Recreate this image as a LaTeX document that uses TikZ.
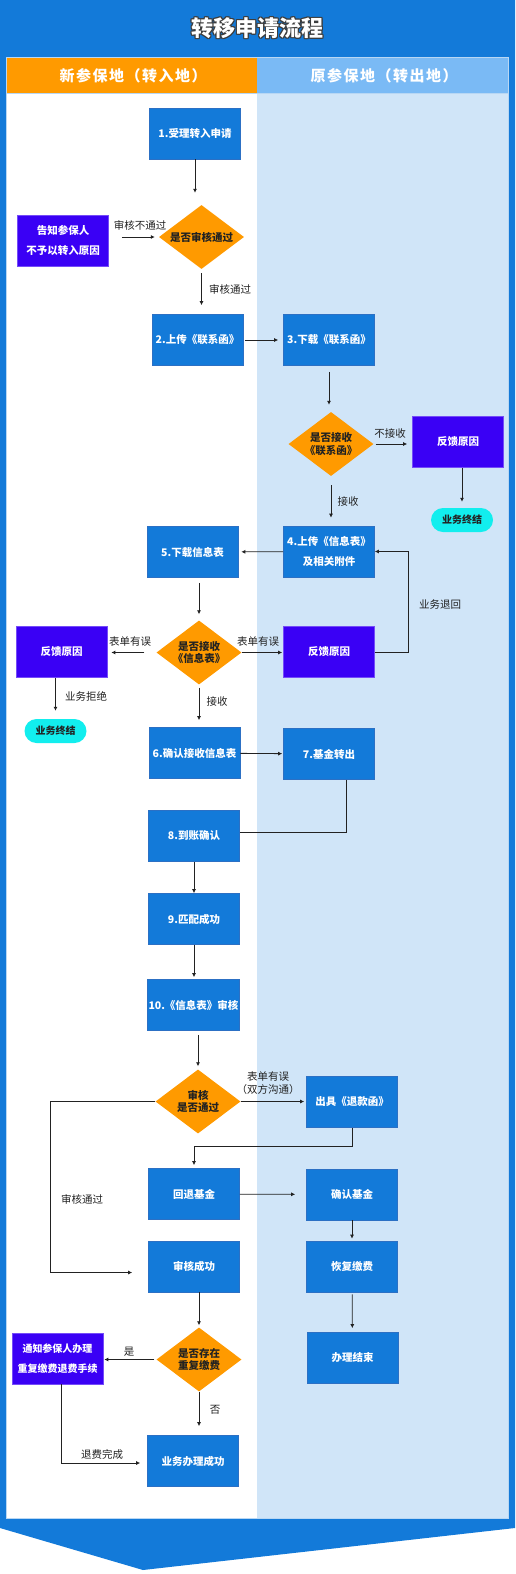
\documentclass[tikz,border=0pt]{standalone}
\usepackage{fontspec}
\setmainfont{Noto Sans CJK SC}
\usepackage{xcolor}
\usepackage{tikz}
\usetikzlibrary{arrows.meta,positioning,shapes.geometric,calc}
\definecolor{mBlue}{RGB}{19,122,217}
\definecolor{mEdge}{RGB}{44,112,196}
\definecolor{mOrange}{RGB}{255,154,0}
\definecolor{mPurple}{RGB}{58,0,245}
\definecolor{mCyan}{RGB}{18,238,238}
\definecolor{mPale}{RGB}{208,229,248}
\definecolor{mSky}{RGB}{122,186,245}
\definecolor{mInk}{RGB}{34,34,34}
\definecolor{mShade}{RGB}{60,60,60}
\tikzset{
flowbox/.style={rectangle,draw=mEdge,line width=.6pt,fill=mBlue,minimum width=91pt,minimum height=51pt,inner sep=1pt,align=center,text=white,font=\fontsize{10.5}{20}\selectfont\bfseries},
notebox/.style={rectangle,draw=mPurple!70!white,line width=.6pt,fill=mPurple,minimum width=91pt,minimum height=51pt,inner sep=1pt,align=center,text=white,font=\fontsize{10.5}{20}\selectfont\bfseries},
choice/.style={diamond,aspect=1.33,fill=mOrange,minimum width=85pt,minimum height=64pt,inner sep=0pt,align=center,text=mInk,font=\fontsize{10.5}{12.5}\selectfont\bfseries},
endcap/.style={rectangle,rounded corners=12pt,fill=mCyan,minimum width=62pt,minimum height=24pt,inner sep=0pt,text=mInk,font=\fontsize{10}{12}\selectfont\bfseries},
lbl/.style={inner sep=0pt,align=center,text=mInk,font=\fontsize{10.5}{13}\selectfont},
headtext/.style={inner sep=0pt,text=white,font=\fontsize{15}{18}\selectfont\bfseries\addfontfeature{LetterSpace=10}},
arrow/.style={-{Latex[length=4pt,width=4pt]},line width=.8pt,draw=mInk},
link/.style={line width=.8pt,draw=mInk}
}

\begin{document}
\begin{tikzpicture}[x=1pt,y=-1pt]
\useasboundingbox (0,0) rectangle (515,1574);
% frame and lanes
\fill[white] (0,0) rectangle (515,1574);
\fill[mBlue] (0,0) -- (515,0) -- (515,1528) -- (143,1570) -- (0,1528) -- cycle;
\fill[white] (6,93) rectangle (257,1518);
\fill[mPale] (257,93) rectangle (508,1518);
\fill[mOrange] (6,57) rectangle (257,93);
\fill[mSky] (257,57) rectangle (508,93);
\draw[white!70!mBlue,line width=.6pt] (6,57) rectangle (508,1518);
\draw[white!70!mBlue,line width=.6pt] (6,93) -- (508,93);
\foreach \k/\dx/\dy in {1/1/0,2/-1/0,3/0/1,4/0/-1,5/1/1,6/-1/1,7/1/-1,8/-1/-1}
  \node[inner sep=0pt,font=\fontsize{22}{24}\selectfont\bfseries,text=mShade] (shade\k) at (257+\dx,28+\dy) {转移申请流程};
\node[inner sep=0pt,font=\fontsize{22}{24}\selectfont\bfseries,text=white] (title) at (257,28) {转移申请流程};
\node[headtext] (laneA) at (133,76) {新参保地（转入地）};
\node[headtext] (laneB) at (384,76) {原参保地（转出地）};

% steps
\node[flowbox] (b1) at (195,133.5) {1.受理转入申请};
\node[choice] (d1) at (201.5,237) {是否审核通过};
\node[notebox] (notify) at (63,240.5) {告知参保人\\不予以转入原因};
\node[flowbox] (b2) at (197.5,340) {2.上传《联系函》};
\node[flowbox] (b3) at (329,340) {3.下载《联系函》};
\node[choice] (d2) at (331,444) {是否接收\\《联系函》};
\node[notebox] (fb1) at (458,442) {反馈原因};
\node[endcap] (end1) at (462,520) {业务终结};
\node[flowbox] (b4) at (329,551.5) {4.上传《信息表》\\及相关附件};
\node[flowbox] (b5) at (192.5,552) {5.下载信息表};
\node[choice] (d3) at (199,652.5) {是否接收\\《信息表》};
\node[notebox] (fb2) at (61.5,652) {反馈原因};
\node[endcap] (end2) at (55.5,731) {业务终结};
\node[notebox] (fb3) at (329,652) {反馈原因};
\node[flowbox] (b6) at (194.5,753) {6.确认接收信息表};
\node[flowbox] (b7) at (329,754) {7.基金转出};
\node[flowbox] (b8) at (194,836) {8.到账确认};
\node[flowbox] (b9) at (194,919) {9.匹配成功};
\node[flowbox] (b10) at (193.5,1005) {10.《信息表》审核};
\node[choice] (d4) at (198,1101.5) {审核\\是否通过};
\node[flowbox] (refund) at (352,1102) {出具《退款函》};
\node[flowbox] (back) at (194,1194) {回退基金};
\node[flowbox] (confirm) at (352,1194.5) {确认基金};
\node[flowbox] (success) at (194,1266.5) {审核成功};
\node[flowbox] (resume) at (352,1266.5) {恢复缴费};
\node[choice] (d5) at (199,1359.5) {是否存在\\重复缴费};
\node[notebox,font=\fontsize{10}{20}\selectfont\bfseries] (notify2) at (57.5,1358.5) {通知参保人办理\\重复缴费退费手续};
\node[flowbox] (finish) at (352.5,1358) {办理结束};
\node[flowbox] (done) at (193,1461) {业务办理成功};

% connectors
\draw[arrow,shorten >=12pt] (b1.south) -- (b1.south |- d1.north);
\draw[arrow,shorten <=13pt,shorten >=4pt] (d1.west -| notify.east) -- (d1.west);
\draw[arrow,shorten <=4pt,shorten >=9pt] (d1.south) -- (d1.south |- b2.north);
\draw[arrow,shorten <=2pt,shorten >=5pt] (b2) -- (b3);
\draw[arrow,shorten <=6pt,shorten >=7pt] (b3.south) -- (b3.south |- d2.north);
\draw[arrow,shorten <=2pt,shorten >=5pt] (d2.east) -- (d2.east -| fb1.west);
\draw[arrow,shorten >=6pt] (fb1.south -| end1.north) -- (end1.north);
\draw[arrow,shorten <=9pt,shorten >=8pt] (d2.south) -- (d2.south |- b4.north);
\draw[arrow,shorten >=3pt] (b4) -- (b5);
\draw[arrow,shorten <=5pt,shorten >=6pt] (d3.north |- b5.south) -- (d3.north);
\draw[arrow,shorten <=12pt,shorten >=4pt] (d3.west) -- (d3.west -| fb2.east);
\draw[arrow,shorten >=8pt] (end2.north |- fb2.south) -- (end2.north);
\draw[arrow,shorten >=1pt] (d3.east) -- (d3.east -| fb3.west);
\draw[arrow] (fb3.east) -- ++(34,0) |- (b4.east);
\draw[arrow,shorten <=3pt,shorten >=7pt] (d3.south) -- (d3.south |- b6.north);
\draw[arrow,shorten >=1pt] (b6) -- (b7);
\draw[link] ([xshift=17pt]b7.south) |- ([yshift=4pt]b8.east);
\draw[arrow] (b8) -- (b9);
\draw[arrow,shorten >=2pt] (b9.south) -- (b9.south |- b10.north);
\draw[arrow,shorten <=4pt,shorten >=3pt] (d4.north |- b10.south) -- (d4.north);
\draw[arrow,shorten >=2pt] (d4.east) -- (d4.east -| refund.west);
\draw[arrow,shorten >=3pt] (refund.south) -- ++(0,19) -| (back.north);
\draw[arrow,shorten >=11pt] (back) -- (confirm);
\draw[arrow,shorten >=2pt] (confirm) -- (resume);
\draw[arrow,shorten <=2pt,shorten >=4pt] (resume) -- (finish);
\draw[arrow,shorten >=16pt] (d4.west) -- ++(-105,0) |- ([yshift=-6pt]success.west);
\draw[arrow,shorten >=2pt] (d5.north |- success.south) -- (d5.north);
\draw[arrow,shorten <=2pt,shorten >=1pt] (d5.west) -- (d5.west -| notify2.east);
\draw[arrow,shorten >=9pt] (d5.south) -- (d5.south |- done.north);
\draw[arrow,shorten >=7pt] ([xshift=4pt]notify2.south) |- ([yshift=-2pt]done.west);

% connector labels
\node[lbl] (t1) at (140,225) {审核不通过};
\node[lbl] (t2) at (230,289) {审核通过};
\node[lbl] (t3) at (390,434) {不接收};
\node[lbl] (t4) at (348,502) {接收};
\node[lbl] (t5) at (130,642) {表单有误};
\node[lbl] (t6) at (258,642) {表单有误};
\node[lbl] (t7) at (86,696) {业务拒绝};
\node[lbl] (t8) at (440,604) {业务退回};
\node[lbl] (t9) at (217,702) {接收};
\node[lbl] (t10) at (268,1083.5) {表单有误\\（双方沟通）};
\node[lbl] (t11) at (82,1199) {审核通过};
\node[lbl] (t12) at (129,1352) {是};
\node[lbl] (t13) at (215,1410) {否};
\node[lbl] (t14) at (102,1454) {退费完成};
\end{tikzpicture}
\end{document}
